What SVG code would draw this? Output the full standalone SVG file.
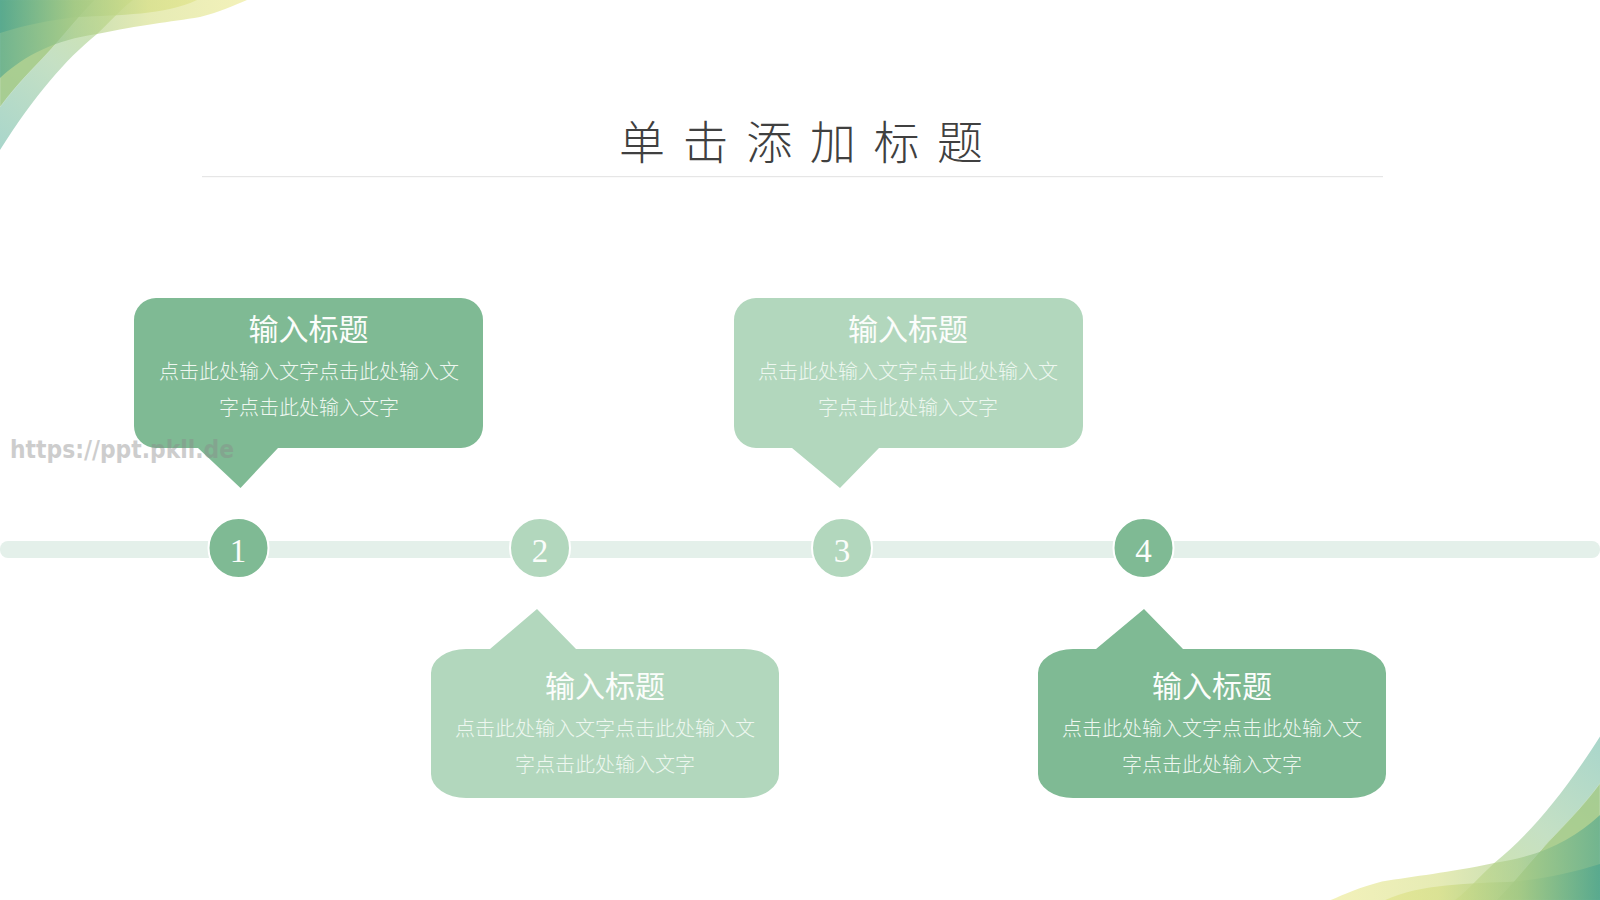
<svg xmlns="http://www.w3.org/2000/svg" width="1600" height="900" viewBox="0 0 1600 900">
<style>
.dark{fill:#7fba94}
.light{fill:#b2d7bd}
.head{font:30px "Noto Sans CJK SC",sans-serif;fill:#fbfdfb;text-anchor:middle}
.body{font:300 20px "Noto Sans CJK SC",sans-serif;fill:#eef7f0;text-anchor:middle}
.num{font:33px "Liberation Serif",serif;fill:#fbfdfb;text-anchor:middle}
.halo{stroke:#fff;stroke-width:2}
</style>
<defs>
<linearGradient id="wave" gradientUnits="userSpaceOnUse" x1="0" y1="0" x2="247" y2="0">
<stop offset="0" stop-color="#4fa58e"/><stop offset=".3" stop-color="#a3c985"/><stop offset=".6" stop-color="#d6df88"/><stop offset="1" stop-color="#ece98f"/>
</linearGradient>
<linearGradient id="band" gradientUnits="userSpaceOnUse" x1="0" y1="150" x2="133" y2="0">
<stop offset="0" stop-color="#a9d6cb"/><stop offset=".5" stop-color="#c5e0c4"/><stop offset="1" stop-color="#d5e6a8"/>
</linearGradient>
<g id="corner">
<path fill="url(#band)" d="M0,150C35,95 65,60 97,34C110,22 120,10 133,0L0,0Z"/>
<path fill="#a3c980" opacity=".75" stroke="#fff" stroke-opacity=".4" stroke-width=".7" d="M0,107C20,80 40,62 53,47C70,28 80,15 95,0L0,0Z"/>
<path fill="url(#wave)" opacity=".62" d="M0,78C25,55 55,40 97,34C140,25 170,22 200,17C220,12 235,5 247,0L0,0Z"/>
<path fill="url(#wave)" opacity=".72" d="M0,33C25,25 50,20 77,17C120,15 165,15 197,0L0,0Z"/>
</g>
</defs>
<rect width="1600" height="900" fill="#fff"/>
<g id="decor">
<use href="#corner"/>
<use href="#corner" transform="translate(1600,900) rotate(180) scale(1.09)"/>
</g>
<g id="title">
<text x="619" y="159" font-family="'Liberation Serif','Noto Sans CJK SC',serif" font-size="46" font-weight="300" letter-spacing="17.6" fill="#404040">单击添加标题</text>
<rect x="202" y="176" width="1181" height="1.2" fill="#e6e6e6"/>
</g>
<g id="connectors">
<rect x="0" y="541" width="1600" height="17" rx="8" fill="#e4f0ea"/>
</g>
<g id="node-1">
<circle class="dark halo" cx="238.500" cy="548" r="30"/>
<text class="num" x="238" y="562">1</text>
<path class="dark" d="M156,298H461A22,22 0 0 1 483,320V426A22,22 0 0 1 461,448H278L240.500,488L198,448H156A22,22 0 0 1 134,426V320A22,22 0 0 1 156,298Z"/>
<text class="head" x="308.500" y="340">输入标题</text>
<text class="body" x="309" y="379">点击此处输入文字点击此处输入文</text>
<text class="body" x="309" y="415">字点击此处输入文字</text>
</g>
<g id="node-2">
<circle class="light halo" cx="540" cy="548" r="30"/>
<text class="num" x="540" y="562">2</text>
<path class="light" d="M466,649H490L537,609L576,649H744A35,24 0 0 1 779,673V774A35,24 0 0 1 744,798H466A35,24 0 0 1 431,774V673A35,24 0 0 1 466,649Z"/>
<text class="head" x="605" y="697">输入标题</text>
<text class="body" x="605" y="736">点击此处输入文字点击此处输入文</text>
<text class="body" x="605" y="772">字点击此处输入文字</text>
</g>
<g id="node-3">
<circle class="light halo" cx="842" cy="548" r="30"/>
<text class="num" x="842" y="562">3</text>
<path class="light" d="M756,298H1061A22,22 0 0 1 1083,320V426A22,22 0 0 1 1061,448H879L840,488L792,448H756A22,22 0 0 1 734,426V320A22,22 0 0 1 756,298Z"/>
<text class="head" x="908" y="340">输入标题</text>
<text class="body" x="908" y="379">点击此处输入文字点击此处输入文</text>
<text class="body" x="908" y="415">字点击此处输入文字</text>
</g>
<g id="node-4">
<circle class="dark halo" cx="1143.500" cy="548" r="30"/>
<text class="num" x="1143.500" y="562">4</text>
<path class="dark" d="M1073,649H1096L1144,609L1183,649H1351A35,24 0 0 1 1386,673V774A35,24 0 0 1 1351,798H1073A35,24 0 0 1 1038,774V673A35,24 0 0 1 1073,649Z"/>
<text class="head" x="1212" y="697">输入标题</text>
<text class="body" x="1212" y="736">点击此处输入文字点击此处输入文</text>
<text class="body" x="1212" y="772">字点击此处输入文字</text>
</g>
<text id="watermark" x="10" y="458" font-family="'DejaVu Sans',sans-serif" font-weight="700" font-size="24" textLength="224" lengthAdjust="spacingAndGlyphs" fill="#8a8a8a" opacity=".42">https://ppt.pkll.de</text>
</svg>
